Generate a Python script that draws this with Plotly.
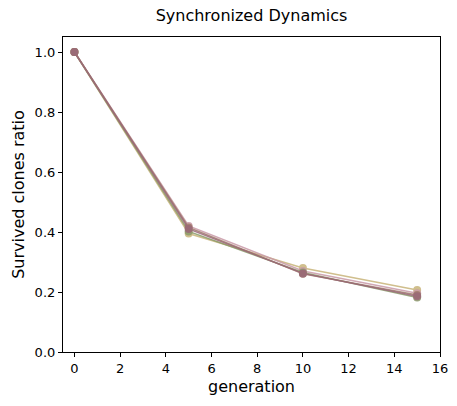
import plotly.graph_objects as go

generations = [0, 5, 10, 15]
series_names = ["run 1", "run 2", "run 3", "run 4", "run 5"]
series_values = [
    [1.0, 0.395, 0.280, 0.207],
    [1.0, 0.420, 0.270, 0.196],
    [1.0, 0.402, 0.265, 0.182],
    [1.0, 0.415, 0.261, 0.190],
    [1.0, 0.410, 0.262, 0.186],
]
colors = ["#c8b47a", "#c99aa8", "#8a9a6a", "#a07a6a", "#9a6878"]

fig = go.Figure()
for name, vals, c in zip(series_names, series_values, colors):
    fig.add_trace(go.Scatter(
        x=generations, y=vals, mode="lines+markers", name=name,
        line=dict(color=c, width=1.5),
        marker=dict(color=c, size=8),
        opacity=0.85,
    ))

font_family = "DejaVu Sans"
fig.update_layout(
    width=457, height=406,
    margin=dict(l=63, r=9, t=37, b=54),
    paper_bgcolor="white", plot_bgcolor="white",
    showlegend=False,
    font=dict(family=font_family, color="black", size=13),
    title=dict(text="Synchronized Dynamics", x=0.5, xref="paper", y=0.962, yanchor="middle",
               font=dict(size=16, family=font_family, color="black")),
)
fig.update_xaxes(
    range=[-0.5, 16], tickvals=[0, 2, 4, 6, 8, 10, 12, 14, 16],
    showgrid=False, zeroline=False,
    showline=True, linecolor="black", linewidth=1.2, mirror=True,
    ticks="outside", ticklen=4, tickcolor="black",
    tickfont=dict(size=13),
    title=dict(text="generation", font=dict(size=16), standoff=6),
)
fig.update_yaxes(
    range=[0, 1.05], tickvals=[0, 0.2, 0.4, 0.6, 0.8, 1.0], tickformat=".1f",
    showgrid=False, zeroline=False,
    showline=True, linecolor="black", linewidth=1.2, mirror=True,
    ticks="outside", ticklen=4, tickcolor="black",
    tickfont=dict(size=13),
    title=dict(text="Survived clones ratio", font=dict(size=16), standoff=6),
)
fig.write_html("out.html")
